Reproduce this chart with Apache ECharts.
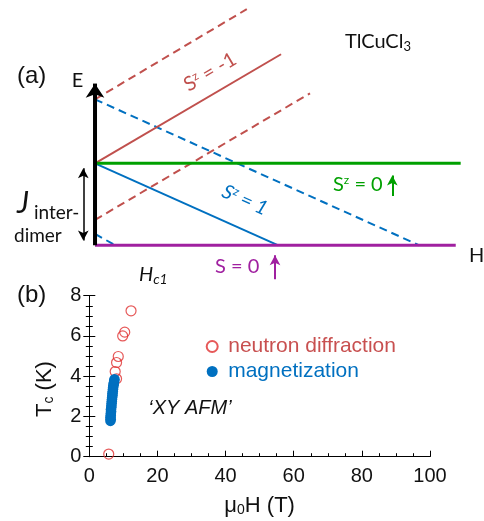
<!DOCTYPE html>
<html><head><meta charset="utf-8">
<script src="https://cdn.jsdelivr.net/npm/echarts@6/dist/echarts.min.js"></script>
<style>html,body{margin:0;padding:0;background:#fff}#c{width:484px;height:521px}</style>
</head><body><div id="c"></div><script>
// ---------- Panel (a): schematic level lines, [H (units of Hc1), E (units of gap)] ----------
const groundLine    = [[0, 0], [1.968, 0]];
const tripletZero   = [[0, 1], [1.995, 1]];
const tripletMinus  = [[0, 1], [1.015, 2.33]];
const tripletPlus   = [[0, 1], [1.0, 0]];
const dashRedUpper  = [[0, 1.78], [0.828, 2.88]];
const dashRedLower  = [[0, 0.31], [1.173, 1.854]];
const dashBlueUpper = [[0, 1.78], [1.769, 0]];
const dashBlueLower = [[0, 0.14], [0.11, 0]];
const eArrow   = [[0, 0], [0, 1.97]];
const jArrow   = [[-0.064, 0.06], [-0.064, 0.94]];
const s0Arrow  = [[1.622, 0.60], [1.622, 0.85]];
const gsArrow  = [[0.982, -0.415], [0.982, -0.12]];

// ---------- Panel (b): Tc vs mu0H ----------
const neutron = [[5.7, 0.13], [7.6, 4.23], [8.0, 3.87], [8.0, 4.68], [8.5, 4.98], [9.8, 6.0], [10.4, 6.19], [12.25, 7.25]];
const magnetization = [
  [6.2, 1.78], [6.3, 1.86], [6.2, 1.95], [6.3, 2.05], [6.3, 2.15], [6.4, 2.25], [6.35, 2.35], [6.45, 2.45],
  [6.5, 2.55], [6.55, 2.65], [6.6, 2.75], [6.65, 2.85], [6.7, 2.95], [6.8, 3.05], [6.8, 3.15], [6.9, 3.25],
  [6.95, 3.35], [7.0, 3.45], [7.1, 3.55], [7.15, 3.62], [7.25, 3.7], [7.3, 3.78], [7.4, 3.85]
];
const xTickLabels = [0, 20, 40, 60, 80, 100];
const yTickLabels = [0, 2, 4, 6, 8];

const RED = '#c0504d', BLUE = '#0070c0', GREEN = '#00a000', PURPLE = '#a020a0';
const SF = 'Lato, "Open Sans", sans-serif';
const HF = '"Liberation Sans", Arial, sans-serif';

function seg(data, color, width, dashed) {
  return { type: 'line', xAxisIndex: 0, yAxisIndex: 0, data: data, showSymbol: false, symbol: 'none',
    silent: true, animation: false, clip: false,
    lineStyle: { color: color, width: width, type: dashed ? [8, 5] : 'solid', cap: 'butt' } };
}
function arrow(data, color, width, size, both) {
  return { type: 'line', xAxisIndex: 0, yAxisIndex: 0, data: [], silent: true, animation: false,
    markLine: { silent: true, animation: false, symbol: [both ? 'arrow' : 'none', 'arrow'], symbolSize: size,
      label: { show: false }, lineStyle: { color: color, width: width, type: 'solid' },
      data: [[{ coord: data[0] }, { coord: data[1] }]] } };
}

const chart = echarts.init(document.getElementById('c'), null, { renderer: 'canvas' });
const xMax = xTickLabels[xTickLabels.length - 1], yMax = yTickLabels[yTickLabels.length - 1];
const xInt = xTickLabels[1] - xTickLabels[0], yInt = yTickLabels[1] - yTickLabels[0];
const subRich = (fs) => ({ m: { fontSize: fs, fontFamily: HF, color: '#111' }, s: { fontSize: 14, fontFamily: HF, color: '#111', verticalAlign: 'bottom', padding: [8, 0, 0, 0] } });

chart.setOption({
  backgroundColor: '#fff',
  animation: false,
  grid: [
    { left: 21.7, width: 439.9, top: 3, height: 283.3 },
    { left: 89.3, right: 54, top: 295.7, height: 161 }
  ],
  xAxis: [
    { gridIndex: 0, type: 'value', min: -0.4, max: 2, show: false },
    { gridIndex: 1, type: 'value', min: xTickLabels[0], max: xMax, interval: xInt,
      axisLine: { lineStyle: { color: '#000', width: 1 } },
      axisTick: { inside: true, length: 6, lineStyle: { color: '#000' } },
      minorTick: { show: true, splitNumber: 4, length: 3.5, lineStyle: { color: '#000' } },
      splitLine: { show: false },
      axisLabel: { color: '#111', fontSize: 20, fontFamily: HF, margin: 10 },
      name: '{m|μ}{s|0}{m|H (T)}', nameLocation: 'middle', nameGap: 38,
      nameTextStyle: { color: '#111', fontFamily: HF, fontSize: 22, rich: subRich(22) } },
    { gridIndex: 1, type: 'value', min: xTickLabels[0], max: xMax, position: 'top',
      axisLine: { show: true, lineStyle: { color: '#000', width: 1 } },
      axisTick: { show: false }, axisLabel: { show: false }, splitLine: { show: false } }
  ],
  yAxis: [
    { gridIndex: 0, type: 'value', min: -0.5, max: 2.955, show: false },
    { gridIndex: 1, type: 'value', min: yTickLabels[0], max: yMax, interval: yInt,
      axisLine: { show: true, lineStyle: { color: '#000', width: 1 } },
      axisTick: { show: true, inside: true, length: 6, lineStyle: { color: '#000' } },
      minorTick: { show: true, splitNumber: 4, length: 3.5, lineStyle: { color: '#000' } },
      splitLine: { show: false },
      axisLabel: { color: '#111', fontSize: 20, fontFamily: HF, margin: 8 } },
    { gridIndex: 1, type: 'value', min: yTickLabels[0], max: yMax, interval: yInt, position: 'right',
      axisLine: { show: true, lineStyle: { color: '#000', width: 1 } },
      axisTick: { show: true, inside: true, length: 6, lineStyle: { color: '#000' } },
      minorTick: { show: true, splitNumber: 4, length: 3.5, lineStyle: { color: '#000' } },
      axisLabel: { show: false }, splitLine: { show: false } }
  ],
  legend: {
    orient: 'vertical', left: 200.7, top: 331, itemGap: 4, itemWidth: 22, itemHeight: 11,
    icon: 'circle', selectedMode: false,
    textStyle: { fontFamily: HF, fontSize: 21 },
    data: [
      { name: 'neutron diffraction', textStyle: { color: '#c85050' } },
      { name: 'magnetization', textStyle: { color: BLUE } }
    ]
  },
  series: [
    seg(dashRedUpper, RED, 2, true),
    seg(dashRedLower, RED, 2, true),
    seg(dashBlueUpper, BLUE, 2, true),
    seg(dashBlueLower, BLUE, 2, true),
    seg(tripletMinus, RED, 2, false),
    seg(tripletPlus, BLUE, 2, false),
    seg(tripletZero, GREEN, 3, false),
    seg(groundLine, PURPLE, 3, false),
    seg(eArrow, '#000', 4, false),
    arrow([[0, 1.8], [0, 1.97]], '#000', 4, [14, 14], false),
    arrow(jArrow, '#000', 1.5, [8, 10], true),
    arrow(s0Arrow, GREEN, 2, [8, 10], false),
    arrow(gsArrow, PURPLE, 2, [8, 10], false),
    { name: 'neutron diffraction', type: 'scatter', xAxisIndex: 1, yAxisIndex: 1, data: neutron,
      symbol: 'circle', symbolSize: 10,
      itemStyle: { color: 'rgba(0,0,0,0)', borderColor: '#e03030', borderWidth: 1.2 } },
    { name: 'magnetization', type: 'scatter', xAxisIndex: 1, yAxisIndex: 1, data: magnetization,
      symbol: 'circle', symbolSize: 10.5, itemStyle: { color: BLUE, opacity: 1 } }
  ],
  graphic: [
    { type: 'text', x: 17, y: 76, style: { text: '(a)', font: '24px ' + HF, fill: '#111', verticalAlign: 'middle' } },
    { type: 'text', x: 17, y: 295, style: { text: '(b)', font: '24px ' + HF, fill: '#111', verticalAlign: 'middle' } },
    { type: 'text', x: 45, y: 389, rotation: Math.PI / 2,
      style: { text: '{m|T}{s|c}{m| (K)}', align: 'center', verticalAlign: 'middle', rich: {
        m: { font: '22px ' + HF, fill: '#111' }, s: { font: '14px ' + HF, fill: '#111', verticalAlign: 'bottom', padding: [8, 0, 0, 0] } } } },
    { type: 'text', x: 77.5, y: 81, style: { text: 'E', font: '20px ' + SF, fill: '#111', align: 'center', verticalAlign: 'middle' } },
    { type: 'text', x: 469, y: 256, style: { text: 'H', font: '20px ' + SF, fill: '#111', verticalAlign: 'middle' } },
    { type: 'text', x: 345, y: 42, style: { text: '{m|TlCuCl}{s|3}', verticalAlign: 'middle',
        rich: { m: { font: '20px ' + SF, fill: '#111' }, s: { font: '13px ' + SF, fill: '#111', verticalAlign: 'bottom', padding: [10, 0, 0, 0] } } } },
    { type: 'text', x: 210, y: 72, rotation: 30.5 * Math.PI / 180,
      style: { text: '{m|S}{s|z}{m| = -1}', align: 'center', verticalAlign: 'middle',
        rich: { m: { font: '20px ' + SF, fill: RED }, s: { font: '12px ' + SF, fill: RED, verticalAlign: 'top', padding: [0, 0, 8, 0] } } } },
    { type: 'text', x: 245, y: 200, rotation: -24 * Math.PI / 180,
      style: { text: '{m|S}{s|z}{m| = 1}', align: 'center', verticalAlign: 'middle',
        rich: { m: { font: 'italic 20px ' + SF, fill: BLUE }, s: { font: 'italic 12px ' + SF, fill: BLUE, verticalAlign: 'top', padding: [0, 0, 8, 0] } } } },
    { type: 'text', x: 333, y: 184.5, style: { text: '{m|S}{s|z}{m| = 0}', verticalAlign: 'middle',
        rich: { m: { font: '20px ' + SF, fill: GREEN }, s: { font: '12px ' + SF, fill: GREEN, verticalAlign: 'top', padding: [0, 0, 8, 0] } } } },
    { type: 'text', x: 215, y: 267, style: { text: 'S = 0', font: '20px ' + SF, fill: PURPLE, verticalAlign: 'middle' } },
    { type: 'text', x: 17, y: 203, style: { text: 'J', font: 'italic 30px ' + SF, fill: '#111', verticalAlign: 'middle' } },
    { type: 'text', x: 34, y: 213, style: { text: 'inter-', font: '19px ' + SF, fill: '#111', verticalAlign: 'middle' } },
    { type: 'text', x: 14, y: 236, style: { text: 'dimer', font: '19px ' + SF, fill: '#111', verticalAlign: 'middle' } },
    { type: 'text', x: 139, y: 275, style: { text: '{m|H}{s|c1}', verticalAlign: 'middle',
        rich: { m: { font: 'italic 20px ' + SF, fill: '#111' }, s: { font: 'italic 14px ' + SF, fill: '#111', verticalAlign: 'bottom', padding: [9, 0, 0, 0] } } } },
    { type: 'text', x: 190, y: 408, style: { text: '\u2018XY AFM\u2019', font: 'italic 20px ' + HF, fill: '#111', align: 'center', verticalAlign: 'middle' } }
  ]
});
</script></body></html>
